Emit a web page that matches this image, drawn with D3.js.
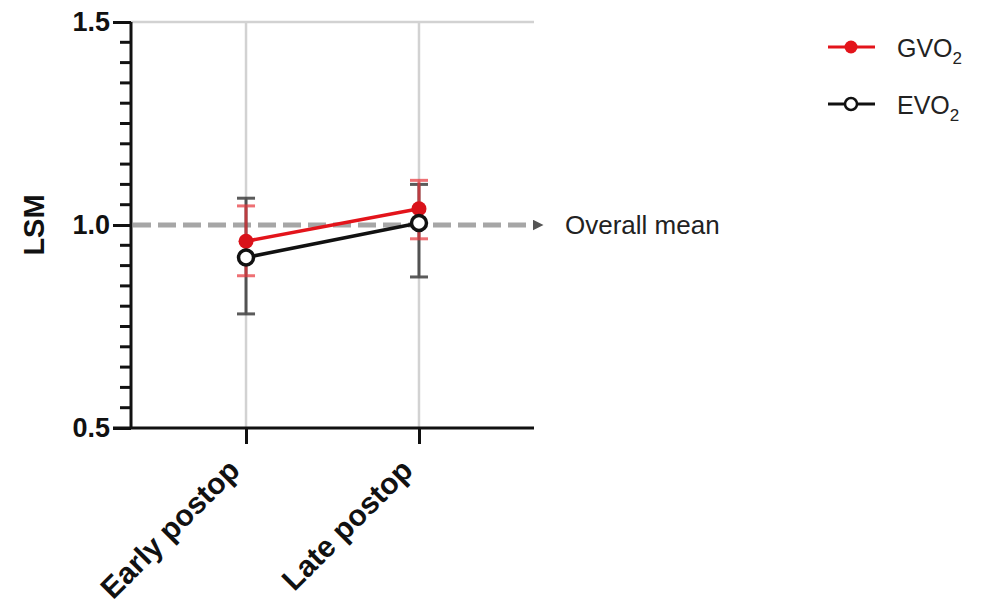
<!DOCTYPE html>
<html>
<head>
<meta charset="utf-8">
<script src="https://cdn.jsdelivr.net/npm/d3@7"></script>
<style>
body{margin:0;background:#fff;}
svg{font-family:"Liberation Sans",Arial,Helvetica,sans-serif;}
</style>
</head>
<body>
<svg id="chart" width="991" height="608"></svg>
<script>
const categories = ["Early postop", "Late postop"];
const seriesNames = ["GVO2", "EVO2"];
const gvo2Mean = [0.96, 1.04];
const gvo2Upper = [1.047, 1.11];
const gvo2Lower = [0.875, 0.966];
const evo2Mean = [0.92, 1.005];
const evo2Upper = [1.066, 1.10];
const evo2Lower = [0.781, 0.872];
const yTicks = [0.5, 1.0, 1.5];
const overallMean = 1.0;

(function () {
const svg = d3.select("#chart");
const pLeft = 131, pRight = 534, pTop = 22, pBottom = 428;

const x = d3.scalePoint().domain(categories).range([pLeft, pRight]).padding(0.665);
const y = d3.scaleLinear().domain([0.5, 1.5]).range([pBottom, pTop]);

// gridlines
svg.append("g").selectAll("line").data(categories).join("line")
  .attr("x1", d => x(d)).attr("x2", d => x(d))
  .attr("y1", pTop).attr("y2", pBottom)
  .attr("stroke", "#d2d2d2").attr("stroke-width", 2.5);
svg.append("line").attr("x1", pLeft).attr("x2", pRight)
  .attr("y1", y(1.5)).attr("y2", y(1.5))
  .attr("stroke", "#d2d2d2").attr("stroke-width", 2.5);

// overall mean dashed line
const defs = svg.append("defs");
defs.append("marker").attr("id", "arr").attr("viewBox", "0 0 10 10")
  .attr("refX", 5).attr("refY", 5).attr("markerWidth", 2.2).attr("markerHeight", 2.2)
  .attr("orient", "auto")
  .append("path").attr("d", "M0,0 L10,5 L0,10 z").attr("fill", "#555");
svg.append("line").attr("x1", pLeft + 2).attr("x2", 538)
  .attr("y1", y(overallMean)).attr("y2", y(overallMean))
  .attr("stroke", "#a6a6a6").attr("stroke-width", 5)
  .attr("stroke-dasharray", "18,7")
  .attr("marker-end", "url(#arr)");
svg.append("text").attr("x", 565).attr("y", y(overallMean) + 9)
  .attr("font-size", 26).attr("fill", "#222").text("Overall mean");

// axes
const yAxis = d3.axisLeft(y).tickValues(yTicks).tickFormat(d3.format(".1f")).tickSize(18).tickPadding(3);
const gy = svg.append("g").attr("transform", `translate(${pLeft},0)`).call(yAxis);
gy.select(".domain").attr("stroke", "#111").attr("stroke-width", 3).attr("d", `M0,${pTop}V${pBottom}`);
gy.selectAll(".tick line").attr("stroke", "#111").attr("stroke-width", 3);
gy.selectAll(".tick text").attr("font-size", 27).attr("font-weight", "bold").attr("fill", "#111")
  .attr("font-family", "'Liberation Sans',Arial,sans-serif");
const minor = d3.range(0.55, 1.5, 0.05).filter(v => Math.abs(v - 1.0) > 0.01);
svg.append("g").selectAll("line").data(minor).join("line")
  .attr("x1", pLeft - 11).attr("x2", pLeft)
  .attr("y1", d => y(d)).attr("y2", d => y(d))
  .attr("stroke", "#111").attr("stroke-width", 3);

const xAxis = d3.axisBottom(x).tickSize(16).tickSizeOuter(0);
const gx = svg.append("g").attr("transform", `translate(0,${pBottom})`).call(xAxis);
gx.select(".domain").attr("stroke", "#111").attr("stroke-width", 3).attr("d", `M${pLeft - 18},0H${pRight}`);
gx.selectAll(".tick line").attr("stroke", "#111").attr("stroke-width", 3);
gx.selectAll(".tick text").attr("font-size", 30).attr("font-weight", "bold").attr("fill", "#111")
  .attr("font-family", "'Liberation Sans',Arial,sans-serif")
  .attr("text-anchor", "end").attr("y", 0).attr("dy", 0)
  .attr("transform", "translate(-5,44) rotate(-45)");

svg.append("text").attr("transform", `translate(44,${y(1.0)}) rotate(-90)`)
  .attr("text-anchor", "middle").attr("font-size", 29).attr("font-weight", "bold").attr("fill", "#111")
  .text("LSM");

// error bars
function errorBars(up, lo, color, op) {
  const g = svg.append("g").attr("stroke", color).attr("stroke-width", 3).attr("opacity", op);
  categories.forEach((c, i) => {
    g.append("line").attr("x1", x(c)).attr("x2", x(c)).attr("y1", y(up[i])).attr("y2", y(lo[i]));
    [up[i], lo[i]].forEach(v => g.append("line").attr("x1", x(c) - 9).attr("x2", x(c) + 9)
      .attr("y1", y(v)).attr("y2", y(v)));
  });
}
errorBars(evo2Upper, evo2Lower, "#333", 0.8);
errorBars(gvo2Upper, gvo2Lower, "#e8343a", 0.7);

// lines
const line = d3.line().x((d, i) => x(categories[i])).y(d => y(d));
svg.append("path").datum(gvo2Mean).attr("d", line).attr("fill", "none").attr("stroke", "#e3141b").attr("stroke-width", 3.5);
svg.append("path").datum(evo2Mean).attr("d", line).attr("fill", "none").attr("stroke", "#111").attr("stroke-width", 3.5);

svg.append("g").selectAll("circle").data(gvo2Mean).join("circle")
  .attr("cx", (d, i) => x(categories[i])).attr("cy", d => y(d)).attr("r", 7.5).attr("fill", "#d9121a");
svg.append("g").selectAll("circle").data(evo2Mean).join("circle")
  .attr("cx", (d, i) => x(categories[i])).attr("cy", d => y(d)).attr("r", 7.5)
  .attr("fill", "#fff").attr("stroke", "#111").attr("stroke-width", 3.5);

// legend
const legend = [
  {name: seriesNames[0], color: "#e3141b", filled: true, ly: 47},
  {name: seriesNames[1], color: "#111", filled: false, ly: 104}
];
legend.forEach(l => {
  svg.append("line").attr("x1", 828).attr("x2", 875).attr("y1", l.ly).attr("y2", l.ly)
    .attr("stroke", l.color).attr("stroke-width", 3);
  svg.append("circle").attr("cx", 851).attr("cy", l.ly).attr("r", l.filled ? 6.5 : 6)
    .attr("fill", l.filled ? l.color : "#fff").attr("stroke", l.color).attr("stroke-width", l.filled ? 0 : 2.5);
  const t = svg.append("text").attr("x", 897).attr("y", l.ly + 10).attr("font-size", 25).attr("fill", "#222");
  t.append("tspan").text(l.name.slice(0, -1));
  t.append("tspan").attr("font-size", 17).attr("dy", 7).text(l.name.slice(-1));
});
})();
</script>
</body>
</html>
